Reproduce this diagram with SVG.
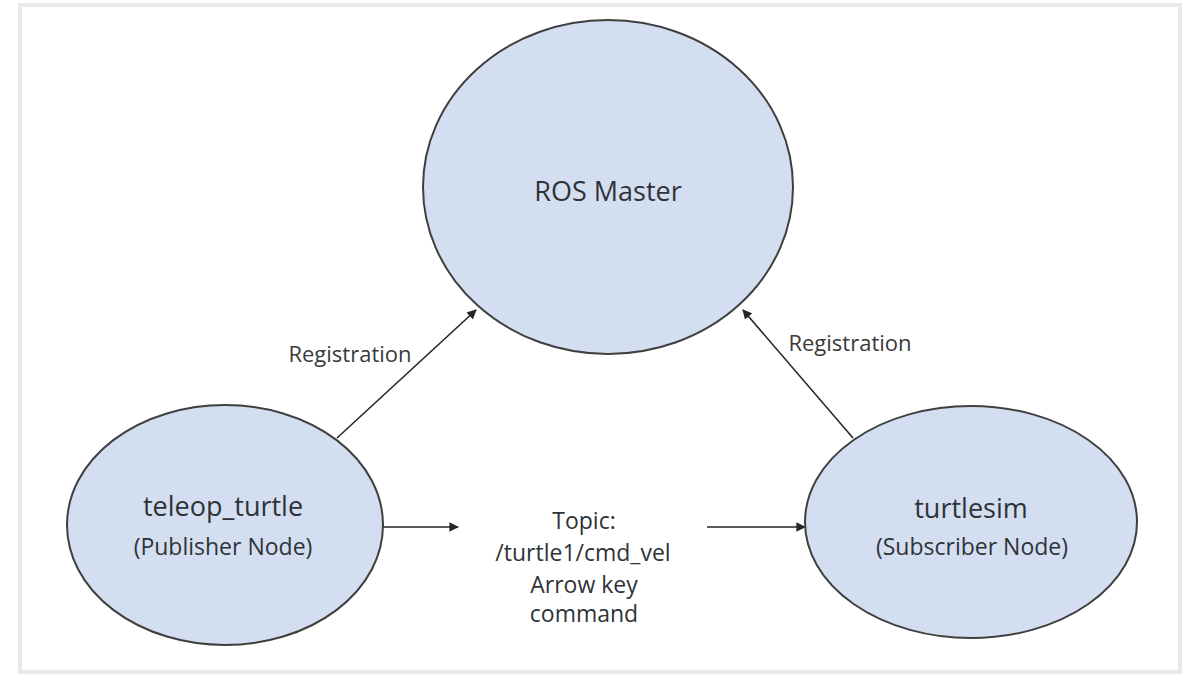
<svg xmlns="http://www.w3.org/2000/svg" width="1191" height="674" viewBox="0 0 1191 674">
  <style>
    .node { fill: #d3dff0; stroke: #3f3f3f; stroke-width: 2; }
    .title { font-family: "Open Sans", "Liberation Sans", sans-serif; font-size: 27px; fill: #2f3338; text-anchor: middle; }
    .sub { font-family: "Open Sans", "Liberation Sans", sans-serif; font-size: 23px; fill: #2f3338; text-anchor: middle; }
    .label { font-family: "Open Sans", "Liberation Sans", sans-serif; font-size: 22px; fill: #3a3a3a; text-anchor: middle; }
    .edge { stroke: #262626; stroke-width: 1.6; fill: none; marker-end: url(#arrow); }
  </style>
  <defs>
    <marker id="arrow" viewBox="0 0 10 10" refX="9" refY="5" markerWidth="6" markerHeight="6" orient="auto" markerUnits="strokeWidth">
      <path d="M0,0 L10,5 L0,10 z" fill="#262626"/>
    </marker>
  </defs>

  <!-- page background and frame -->
  <rect x="0" y="0" width="1191" height="674" fill="#ffffff"/>
  <rect x="20" y="5" width="1160" height="667" fill="#ffffff" stroke="#e9e9e9" stroke-width="4"/>

  <!-- connectors -->
  <g id="connectors">
    <line class="edge" x1="337" y1="438" x2="476" y2="310"/>
    <line class="edge" x1="853" y1="438" x2="743" y2="310"/>
    <line class="edge" x1="380" y1="527" x2="458" y2="527"/>
    <line class="edge" x1="707" y1="527" x2="805" y2="527"/>
    <text class="label" x="350" y="362">Registration</text>
    <text class="label" x="850" y="351">Registration</text>
  </g>

  <!-- ROS Master -->
  <g id="ros-master">
    <ellipse class="node" cx="608" cy="187" rx="185" ry="167"/>
    <text class="title" x="608" y="201">ROS Master</text>
  </g>

  <!-- publisher -->
  <g id="teleop-turtle">
    <ellipse class="node" cx="225" cy="525" rx="158" ry="120"/>
    <text class="title" x="223" y="516">teleop_turtle</text>
    <text class="sub" x="223" y="555">(Publisher Node)</text>
  </g>

  <!-- subscriber -->
  <g id="turtlesim">
    <ellipse class="node" cx="971" cy="522" rx="166" ry="116"/>
    <text class="title" x="971" y="518">turtlesim</text>
    <text class="sub" x="972" y="555">(Subscriber Node)</text>
  </g>

  <!-- topic description -->
  <g id="topic">
    <text class="sub" x="584" y="529">Topic:</text>
    <text class="sub" x="583" y="561">/turtle1/cmd_vel</text>
    <text class="sub" x="584" y="593">Arrow key</text>
    <text class="sub" x="584" y="622">command</text>
  </g>
</svg>
